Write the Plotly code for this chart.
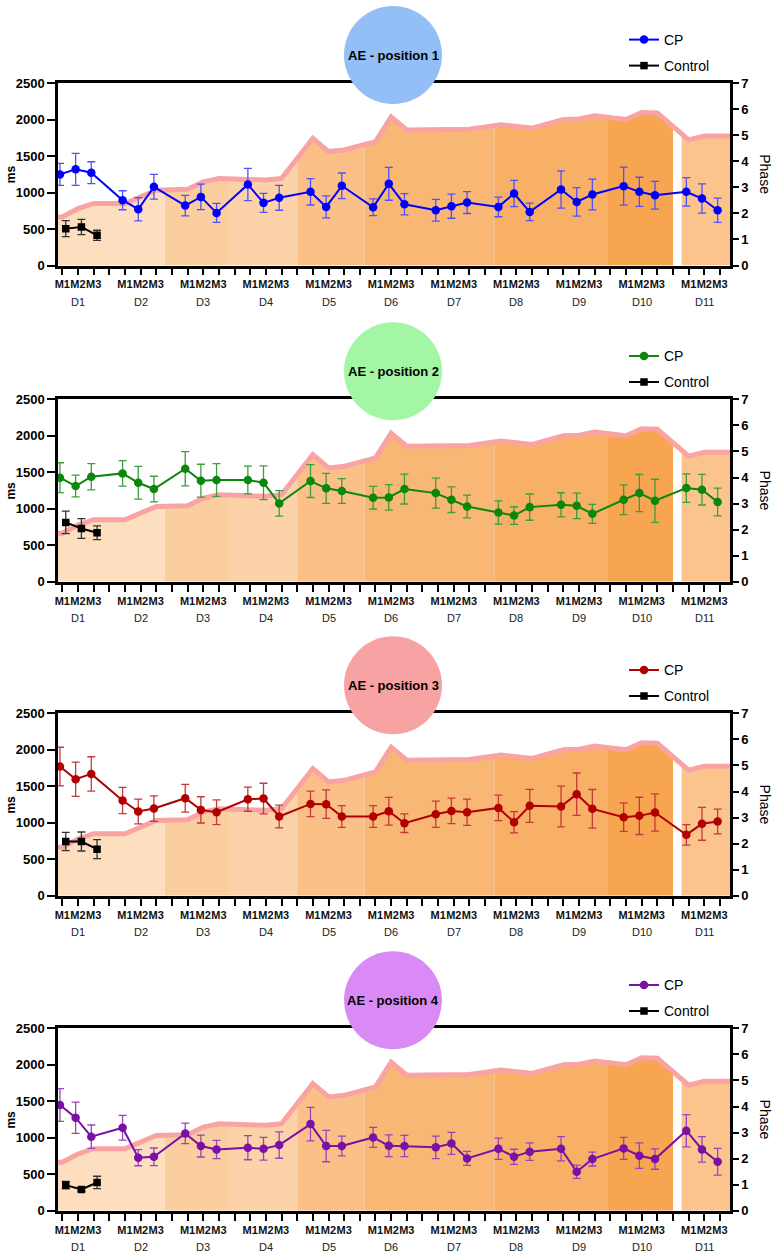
import numpy as np
import plotly.graph_objects as go

# ---------------- data ----------------
DAYS = [f"D{i}" for i in range(1, 12)]
MEASURES = ["M1", "M2", "M3"]

# phase (right axis), one value per day x measure
PHASE = [1.86, 2.18, 2.38,
         2.38, 2.66, 2.89,
         2.92, 3.21, 3.34,
         3.32, 3.28, 3.34,
         4.88, 4.37, 4.43,
         4.75, 5.70, 5.20,
         5.20, 5.22, 5.23,
         5.40, 5.35, 5.27,
         5.60, 5.62, 5.74,
         5.60, 5.87, 5.85,
         4.82, 4.97, 4.97]

CP1_MEAN = [1248, 1317, 1271, 894, 771, 1078, 821, 940, 720, 1110, 858, 927,
            1009, 803, 1092, 798, 1119, 839, 757, 812, 862, 803, 986, 734,
            1041, 871, 972, 1087, 1009, 963, 1009, 917, 757]
CP1_ERR = [150, 220, 150, 130, 160, 170, 140, 175, 130, 220, 130, 170,
           180, 150, 175, 115, 225, 145, 150, 165, 150, 135, 180, 120,
           255, 195, 210, 260, 200, 190, 195, 200, 165]
CTRL1_MEAN = [505, 528, 413]
CTRL1_ERR = [110, 105, 70]

CP2_MEAN = [1426, 1312, 1440, 1485, 1357, 1271, 1549, 1385, 1394, 1394, 1357, 1074,
            1380, 1280, 1243, 1152, 1156, 1271, 1215, 1124, 1032, 949, 908, 1023,
            1055, 1041, 931, 1124, 1215, 1110, 1284, 1262, 1092]
CP2_ERR = [205, 150, 180, 175, 225, 175, 235, 225, 225, 190, 230, 175,
           225, 205, 170, 155, 175, 205, 205, 175, 155, 160, 120, 180,
           165, 175, 130, 205, 255, 295, 195, 210, 190]
CTRL2_MEAN = [814, 731, 672]
CTRL2_ERR = [155, 135, 95]

CP3_MEAN = [1770, 1597, 1670, 1305, 1154, 1195, 1337, 1177, 1145, 1323, 1332, 1086,
            1259, 1255, 1086, 1086, 1159, 994, 1118, 1163, 1145, 1204, 1008, 1232,
            1223, 1392, 1191, 1077, 1095, 1141, 835, 986, 1017]
CP3_ERR = [265, 235, 235, 180, 170, 175, 190, 180, 170, 165, 210, 155,
           175, 195, 150, 150, 190, 127, 180, 175, 180, 175, 145, 225,
           280, 290, 265, 195, 255, 255, 140, 225, 170]
CTRL3_MEAN = [744, 744, 639]
CTRL3_ERR = [125, 130, 130]

CP4_MEAN = [1449, 1275, 1015, 1138, 727, 740, 1060, 887, 841, 864, 850, 900,
            1188, 887, 887, 1005, 891, 887, 869, 923, 718, 850, 740, 810,
            850, 535, 709, 855, 755, 709, 1097, 841, 672]
CP4_ERR = [225, 215, 160, 170, 110, 120, 140, 150, 125, 165, 155, 180,
           230, 215, 135, 137, 150, 145, 153, 150, 97, 145, 103, 120,
           165, 92, 95, 150, 175, 140, 220, 175, 183]
CTRL4_MEAN = [352, 293, 388]
CTRL4_ERR = [50, 25, 85]

PANEL_TITLES = ["AE - position 1", "AE - position 2", "AE - position 3", "AE - position 4"]

# ---------------- styling / layout ----------------
W, H = 777, 1257
FONT = "Liberation Sans, Arial, sans-serif"
X0_PX, X1_PX = 58, 730
PANEL_TOPS = [83, 399.3, 713.3, 1028.3]
PANEL_H = 182.5
SLOT = 4                      # M1 M2 M3 + gap
X_RANGE = [-0.275, 42.64]
CP_SHIFT, CTRL_SHIFT = -0.15, 0.22

CP_COLORS = ["#0000FF", "#0B870B", "#B00000", "#7A10A6"]
ERR_COLORS = ["#5050FF", "#3C9E3C", "#C43A3A", "#9646BC"]
CIRCLE_COLORS = ["#93BFF6", "#A3F6A3", "#F8A3A3", "#D98AF5"]

REGION_EDGES = [-0.275, 6.56, 10.7, 15.0, 19.3, 27.6, 34.85, 39.0]
REGION_COLORS = ["#FDDFBF", "#FBCE9F", "#FCD3A8", "#FBC088", "#F9B776", "#F8AF66", "#F8A552"]
LAST_REGION = (39.55, 42.64, "#FBC48C")
PINK = "#F9A3A3"

cp_means = [CP1_MEAN, CP2_MEAN, CP3_MEAN, CP4_MEAN]
cp_errs = [CP1_ERR, CP2_ERR, CP3_ERR, CP4_ERR]
ctrl_means = [CTRL1_MEAN, CTRL2_MEAN, CTRL3_MEAN, CTRL4_MEAN]
ctrl_errs = [CTRL1_ERR, CTRL2_ERR, CTRL3_ERR, CTRL4_ERR]


def pxx(p):
    return p / W


def pxy(p):
    return 1 - p / H


x_pos = np.array([d * SLOT + m for d in range(len(DAYS)) for m in range(len(MEASURES))], dtype=float)
line_x = np.concatenate([[X_RANGE[0]], x_pos, [X_RANGE[1]]])
line_y = np.concatenate([[PHASE[0]], PHASE, [PHASE[-1]]])

regions = [(REGION_EDGES[i], REGION_EDGES[i + 1], REGION_COLORS[i]) for i in range(len(REGION_COLORS))]
regions.append(LAST_REGION)

tickvals = list(range(0, (len(DAYS) - 1) * SLOT + len(MEASURES)))
ticktext = [MEASURES[v % SLOT] if v % SLOT < 3 else "" for v in tickvals]

fig = go.Figure()
layout = dict(template="none", width=W, height=H,
              margin=dict(l=0, r=0, t=0, b=0, pad=0, autoexpand=False),
              paper_bgcolor="white", plot_bgcolor="white",
              font=dict(family=FONT, color="black"), showlegend=True)
shapes, annotations = [], []

for k in range(4):
    n = k + 1
    xa = "x" if n == 1 else f"x{n}"
    ya_phase = "y" if n == 1 else f"y{n}"
    ya_ms = f"y{n + 4}"
    top = PANEL_TOPS[k]
    bot = top + PANEL_H
    dom = [pxy(bot), pxy(top)]

    # background phase areas
    for (a, b, c) in regions:
        inner = line_x[(line_x > a) & (line_x < b)]
        xs = np.concatenate([[a], inner, [b]])
        ys = np.interp(xs, line_x, line_y)
        fig.add_trace(go.Scatter(x=xs, y=ys, xaxis=xa, yaxis=ya_phase, mode="lines",
                                 line=dict(width=0), fill="tozeroy", fillcolor=c,
                                 showlegend=False, hoverinfo="skip"))
    fig.add_trace(go.Scatter(x=line_x, y=line_y, xaxis=xa, yaxis=ya_phase, mode="lines",
                             line=dict(color=PINK, width=5), showlegend=False, hoverinfo="skip"))

    leg_cp = "legend" if k == 0 else f"legend{2 * k + 1}"
    leg_ct = f"legend{2 * k + 2}"

    fig.add_trace(go.Scatter(
        x=x_pos + CP_SHIFT, y=cp_means[k], xaxis=xa, yaxis=ya_ms, mode="lines+markers",
        name="CP", legend=leg_cp,
        line=dict(color=CP_COLORS[k], width=2),
        marker=dict(color=CP_COLORS[k], size=8.5, symbol="circle"),
        error_y=dict(type="data", array=cp_errs[k], color=ERR_COLORS[k], thickness=1.3, width=4)))
    fig.add_trace(go.Scatter(
        x=x_pos[:3] + CTRL_SHIFT, y=ctrl_means[k], xaxis=xa, yaxis=ya_ms, mode="lines+markers",
        name="Control", legend=leg_ct,
        line=dict(color="black", width=2),
        marker=dict(color="black", size=7.5, symbol="square"),
        error_y=dict(type="data", array=ctrl_errs[k], color="#333333", thickness=1.3, width=4)))

    layout["xaxis" if n == 1 else f"xaxis{n}"] = dict(
        domain=[pxx(X0_PX), pxx(X1_PX)], anchor=ya_phase, range=X_RANGE, automargin=False,
        tickvals=tickvals, ticktext=ticktext, tickangle=0, ticks="outside", ticklen=7, tickwidth=2,
        tickcolor="black", showline=True, linewidth=2.5, linecolor="black", mirror=True,
        showgrid=False, zeroline=False,
        tickfont=dict(family=FONT, size=11, weight="bold", color="#111111"))
    layout["yaxis" if n == 1 else f"yaxis{n}"] = dict(
        domain=dom, anchor=xa, side="right", range=[0, 7], tickvals=list(range(0, 8)),
        automargin=False, ticks="outside", ticklen=6, tickwidth=2, tickcolor="black",
        showline=True, linewidth=2.5, linecolor="black", showgrid=False, zeroline=False,
        tickfont=dict(family=FONT, size=13, weight="bold"))
    layout[f"yaxis{n + 4}"] = dict(
        overlaying=ya_phase, anchor=xa, side="left", range=[0, 2500],
        tickvals=[0, 500, 1000, 1500, 2000, 2500], automargin=False,
        ticks="outside", ticklen=8, tickwidth=2, tickcolor="black",
        showline=True, linewidth=2.5, linecolor="black", showgrid=False, zeroline=False,
        tickfont=dict(family=FONT, size=13, weight="bold"))

    # legends
    for leg, dy in ((leg_cp, -43), (leg_ct, -17)):
        layout[leg] = dict(x=pxx(624), y=pxy(top + dy), xanchor="left", yanchor="middle",
                           bgcolor="rgba(0,0,0,0)", borderwidth=0, itemwidth=30,
                           font=dict(family=FONT, size=14, color="black"))

    # circle title
    cx, cy, r = 393, top - 28, 49
    shapes.append(dict(type="circle", xref="paper", yref="paper",
                       x0=pxx(cx - r), x1=pxx(cx + r), y0=pxy(cy + r), y1=pxy(cy - r),
                       fillcolor=CIRCLE_COLORS[k], line=dict(width=0), layer="above"))
    annotations.append(dict(x=pxx(cx), y=pxy(cy), xref="paper", yref="paper",
                            xanchor="center", yanchor="middle",
                            text=f"<b>{PANEL_TITLES[k]}</b>", showarrow=False,
                            font=dict(family=FONT, size=13, color="black")))
    # axis titles
    annotations.append(dict(x=pxx(11), y=pxy(top + PANEL_H / 2), xref="paper", yref="paper",
                            xanchor="center", yanchor="middle",
                            text="<b>ms</b>", textangle=-90, showarrow=False,
                            font=dict(family=FONT, size=12, color="black")))
    annotations.append(dict(x=pxx(765), y=pxy(top + PANEL_H / 2), xref="paper", yref="paper",
                            xanchor="center", yanchor="middle",
                            text="Phase", textangle=90, showarrow=False,
                            font=dict(family=FONT, size=14, color="black")))
    # day labels
    for d, lab in enumerate(DAYS):
        annotations.append(dict(x=d * SLOT + 1, y=pxy(bot + 36), xref=xa, yref="paper",
                                xanchor="center", yanchor="middle",
                                text=lab, showarrow=False,
                                font=dict(family=FONT, size=11, color="#222222")))

layout["shapes"] = shapes
layout["annotations"] = annotations
fig.update_layout(**layout)
fig.write_html("out.html")
